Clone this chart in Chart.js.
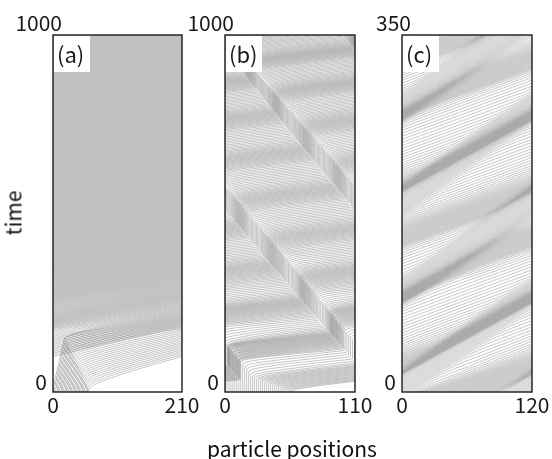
<!DOCTYPE html>
<html><head><meta charset="utf-8">
<script src="https://cdn.jsdelivr.net/npm/chart.js@4.4.1/dist/chart.umd.min.js"></script>
<style>
html,body{margin:0;padding:0;background:#fff;}
#wrap{position:relative;width:552px;height:459px;overflow:hidden;background:#fff;}
canvas{position:absolute;left:0;top:0;}
.lbl{position:absolute;font-family:"Noto Sans CJK JP","Noto Sans",sans-serif;font-size:21px;color:#111;white-space:nowrap;line-height:1;}
</style></head><body>
<div id="wrap">
<canvas id="c0" width="552" height="459"></canvas>
<canvas id="c1" width="552" height="459"></canvas>
<canvas id="c2" width="552" height="459"></canvas>
<div class="lbl" style="left:0;width:584px;top:438px;text-align:center;">particle positions</div>
<div class="lbl" style="left:13px;top:213px;transform:translate(-50%,-50%) rotate(-90deg);">time</div>
</div>
<script>
// ---- values ----
const panelNames = ["(a)", "(b)", "(c)"];
const xMaxes = [210, 110, 120];
const tMaxes = [1000, 1000, 350];
const xTickText = [["0", "210"], ["0", "110"], ["0", "120"]];
const yTickText = [["0", "1000"], ["0", "1000"], ["0", "350"]];
const particleCounts = [28, 34, 46];
const startSpans = [[0, 58], [0, 55], [0, 120]];
// free speed against time (t, v)
const freeSpeedKeys = [
  [[0, 1.5], [150, 2.7], [300, 3.3], [1000, 3.3]],
  [[0, 2.9], [1000, 2.9]],
  [[0, 2.6], [350, 2.6]]
];
// initial jam front (t, x) and crawl speed inside it
const jamFronts = [[[0, 60], [150, 20]], [[0, 55], [70, 0]], null];
const crawlSpeeds = [0.133, 0, 0];
const accelTimes = [12, 12, 3];
// time window in which the free flow evens out its spacing
const evenFrom = [170, 80, 0];
const evenUntil = [1000, 400, 120];
// moving slow band: a point (t, x) on its centre, band speed, half width (t, w), speed inside
const bandCentres = [null, [398, 36.4], [7, 0]];
const bandSpeeds = [0, -0.254, 1.32];
const bandHalfWidths = [null, [[0, 10], [400, 14], [700, 13], [1000, 7]], [[0, 30], [350, 30]]];
const bandSlowSpeeds = [0, 0.0, 1.72];
// ---- layout ----
const frameLefts = [53, 225, 402];
const frameRights = [182, 355, 532];
const frameTop = 35, frameBottom = 392;

function keyInterp(keys, t) {
  if (t <= keys[0][0]) return keys[0][1];
  for (let i = 1; i < keys.length; i++) {
    if (t <= keys[i][0]) {
      const f = (t - keys[i - 1][0]) / (keys[i][0] - keys[i - 1][0]);
      return keys[i - 1][1] + f * (keys[i][1] - keys[i - 1][1]);
    }
  }
  return keys[keys.length - 1][1];
}

function bandCap(k, x, t, vfree) {
  const c = bandCentres[k];
  if (!c) return vfree;
  const L = xMaxes[k];
  const xc = c[1] + bandSpeeds[k] * (t - c[0]);
  let d = ((x - xc) % L + L) % L; if (d > L / 2) d -= L;
  const u = Math.abs(d) / keyInterp(bandHalfWidths[k], t);
  let w = 0;
  if (u < 0.5) w = 1; else if (u < 1) w = 0.5 * (1 + Math.cos(Math.PI * (u - 0.5) / 0.5));
  return vfree - (vfree - bandSlowSpeeds[k]) * w;
}

function simulate(k) {
  const L = xMaxes[k], T = tMaxes[k], N = particleCounts[k];
  const s0 = startSpans[k][0], s1 = startSpans[k][1];
  const full = (s1 - s0) >= L;
  const ta = accelTimes[k], td = 0.5;
  const mod = v => ((v % L) + L) % L;
  const X = [], V = [], released = [];
  for (let i = 0; i < N; i++) {
    X.push(s0 + (s1 - s0) * i / (full ? N : N - 1));
    released.push(!jamFronts[k]);
    V.push(full ? bandCap(k, X[i], 0, keyInterp(freeSpeedKeys[k], 0)) : 0);
  }
  const steps = 12000, dt = T / steps, recEvery = 20;
  const lastRec = X.map(x => ({ x: x, t: 0 }));
  const series = X.map(x => [{ x: x, y: 0 }]);
  const adj = new Array(N).fill(0);
  const caps = new Array(N).fill(0);
  for (let s = 1; s <= steps; s++) {
    const t = s * dt;
    const vf = keyInterp(freeSpeedKeys[k], t);
    for (let i = 0; i < N; i++) caps[i] = bandCap(k, mod(X[i]), t, vf);
    adj.fill(0);
    if (t >= evenFrom[k] && t <= evenUntil[k]) {
      const idx = [...Array(N).keys()].sort((p, q) => mod(X[p]) - mod(X[q]));
      for (let j = 0; j < N; j++) {
        const i = idx[j], ahead = idx[(j + 1) % N], behind = idx[(j - 1 + N) % N];
        const free = caps[i] >= vf - 1e-6 && caps[ahead] >= vf - 1e-6 && caps[behind] >= vf - 1e-6;
        if (!free) continue;
        const gA = mod(X[ahead] - X[i]), gB = mod(X[i] - X[behind]);
        adj[i] = Math.max(-0.7, Math.min(0.7, 0.4 * (gA - gB)));
      }
    }
    for (let i = 0; i < N; i++) {
      const x = mod(X[i]);
      let tgt = vf;
      if (!released[i]) {
        const jf = jamFronts[k];
        if (t < jf[jf.length - 1][0] && x < keyInterp(jf, t)) tgt = crawlSpeeds[k];
        else released[i] = true;
      }
      tgt = Math.min(tgt, caps[i]);
      const tau = tgt < V[i] ? td : ta;
      V[i] += (tgt - V[i]) * Math.min(1, dt / tau);
      X[i] += Math.max(0, V[i] + adj[i]) * dt;
    }
    if (s % recEvery === 0 || s === steps) {
      for (let i = 0; i < N; i++) {
        const prev = lastRec[i];
        const lapP = Math.floor(prev.x / L), lapN = Math.floor(X[i] / L);
        const arr = series[i];
        if (lapN !== lapP) {
          arr.push({ x: X[i] - lapP * L, y: t });
          arr.push({ x: null, y: null });
          arr.push({ x: prev.x - lapN * L, y: prev.t });
        }
        arr.push({ x: X[i] - lapN * L, y: t });
        lastRec[i] = { x: X[i], t: t };
      }
    }
  }
  let all = [];
  series.forEach(a => { all = all.concat(a); all.push({ x: null, y: null }); });
  return all;
}

const FONT = '"Noto Sans CJK JP", "Noto Sans", sans-serif';

function makeDecor(k) {
  return {
    id: 'decor' + k,
    afterDraw(chart) {
      const ctx = chart.ctx, a = chart.chartArea;
      const xs = chart.scales.x, ys = chart.scales.y;
      ctx.save();
      ctx.fillStyle = '#fff';
      ctx.fillRect(a.left + 1, a.top + 1, 36, 36);
      ctx.fillStyle = '#1a1a1a';
      ctx.font = '22px ' + FONT;
      ctx.textAlign = 'left'; ctx.textBaseline = 'middle';
      ctx.fillText(panelNames[k], a.left + 4, a.top + 20);
      ctx.strokeStyle = '#1a1a1a'; ctx.lineWidth = 1.4;
      ctx.strokeRect(a.left, a.top, a.right - a.left, a.bottom - a.top);
      ctx.font = '21px ' + FONT;
      ctx.textBaseline = 'middle'; ctx.textAlign = 'center';
      ctx.fillText(xTickText[k][0], xs.getPixelForValue(0), 405);
      ctx.fillText(xTickText[k][1], xs.getPixelForValue(xMaxes[k]), 405);
      ctx.textAlign = 'right';
      ctx.fillText(yTickText[k][0], a.left - 6, ys.getPixelForValue(0) - 10);
      ctx.fillText(yTickText[k][1], a.left + 9, ys.getPixelForValue(tMaxes[k]) - 12);
      ctx.restore();
    }
  };
}

for (let k = 0; k < 3; k++) {
  const data = simulate(k);
  new Chart(document.getElementById('c' + k), {
    type: 'line',
    data: { datasets: [{ data: data, borderColor: '#7e7e7e', borderWidth: 0.45, pointRadius: 0, fill: false, tension: 0, spanGaps: false, clip: 0 }] },
    options: {
      responsive: false, animation: false, events: [], devicePixelRatio: 1,
      layout: { padding: { left: frameLefts[k], right: 552 - frameRights[k], top: frameTop, bottom: 459 - frameBottom } },
      plugins: { legend: { display: false }, tooltip: { enabled: false } },
      scales: {
        x: { type: 'linear', min: 0, max: xMaxes[k], display: false },
        y: { type: 'linear', min: 0, max: tMaxes[k], display: false }
      }
    },
    plugins: [makeDecor(k)]
  });
}
</script>
</body></html>
